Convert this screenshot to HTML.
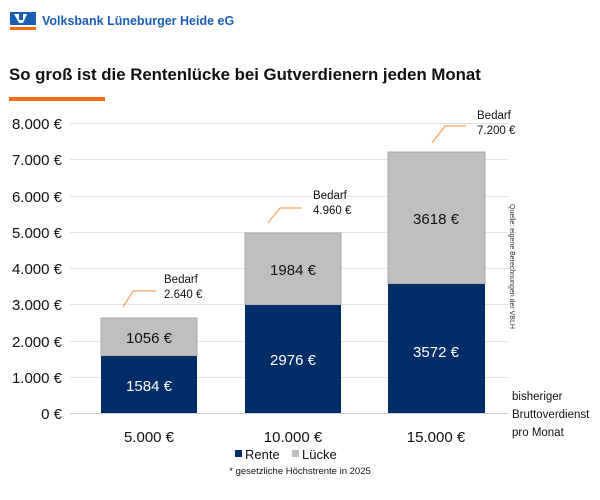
<!DOCTYPE html>
<html><head><meta charset="utf-8"><style>
body{margin:0;background:#fff;}
svg{display:block;font-family:"Liberation Sans",sans-serif;}
</style></head><body>
<svg width="600" height="500" viewBox="0 0 600 500">
<rect x="10" y="12" width="26" height="13" fill="#1a5fb4"/>
<path d="M14 14h5v6h4v-6h4l-4 9h-4z" fill="#fff"/>
<rect x="10" y="27" width="26" height="3" fill="#f60"/>
<text x="42" y="25" font-size="12.5" font-weight="bold" fill="#1a5fb4">Volksbank Lüneburger Heide eG</text>
<text x="9" y="80" font-size="16.8" font-weight="bold" fill="#111">So groß ist die Rentenlücke bei Gutverdienern jeden Monat</text>
<rect x="9" y="97" width="96" height="4" fill="#ff6a13"/>
<g stroke="#e3e3e3" stroke-width="1">
<line x1="70" x2="508" y1="123.5" y2="123.5"/><line x1="70" x2="508" y1="159.5" y2="159.5"/>
<line x1="70" x2="508" y1="196.5" y2="196.5"/><line x1="70" x2="508" y1="232.5" y2="232.5"/>
<line x1="70" x2="508" y1="268.5" y2="268.5"/><line x1="70" x2="508" y1="304.5" y2="304.5"/>
<line x1="70" x2="508" y1="341.5" y2="341.5"/><line x1="70" x2="508" y1="377.5" y2="377.5"/>
<line x1="70" x2="508" y1="413.5" y2="413.5" stroke="#ccc"/>
</g>
<g font-size="15" fill="#111" text-anchor="end">
<text x="62" y="129">8.000 €</text><text x="62" y="165">7.000 €</text><text x="62" y="202">6.000 €</text>
<text x="62" y="238">5.000 €</text><text x="62" y="274">4.000 €</text><text x="62" y="310">3.000 €</text>
<text x="62" y="347">2.000 €</text><text x="62" y="383">1.000 €</text><text x="62" y="419">0 €</text>
</g>
<rect x="101" y="318" width="96" height="38" fill="#bfbfbf" stroke="#aaa"/>
<rect x="101" y="356" width="96" height="57" fill="#002d67"/>
<rect x="245" y="233" width="96" height="72" fill="#bfbfbf" stroke="#aaa"/>
<rect x="245" y="305" width="96" height="108" fill="#002d67"/>
<rect x="388" y="152" width="97" height="132" fill="#bfbfbf" stroke="#aaa"/>
<rect x="388" y="284" width="97" height="129" fill="#002d67"/>
<g font-size="15" text-anchor="middle">
<text x="149" y="343" fill="#111">1056 €</text><text x="149" y="391" fill="#fff">1584 €</text>
<text x="293" y="275" fill="#111">1984 €</text><text x="293" y="365" fill="#fff">2976 €</text>
<text x="436" y="224" fill="#111">3618 €</text><text x="436" y="357" fill="#fff">3572 €</text>
</g>
<g stroke="#f7a25a" fill="none" stroke-width="1.2">
<polyline points="123,307 133,291 156,291"/>
<polyline points="268,223 280,208 302,208"/>
<polyline points="432,143 445,126 466,126"/>
</g>
<g font-size="11.5" fill="#111">
<text x="164" y="283">Bedarf</text><text x="164" y="298">2.640 €</text>
<text x="313" y="199">Bedarf</text><text x="313" y="214">4.960 €</text>
<text x="477" y="119">Bedarf</text><text x="477" y="134">7.200 €</text>
</g>
<text transform="translate(510,204) rotate(90)" font-size="7" fill="#333">Quelle: eigene Berechnungen der VBLH</text>
<g font-size="15" fill="#111" text-anchor="middle">
<text x="149" y="442">5.000 €</text><text x="293" y="442">10.000 €</text><text x="436" y="442">15.000 €</text>
</g>
<g font-size="11.5" fill="#111">
<text x="512" y="400">bisheriger</text><text x="512" y="418">Bruttoverdienst</text><text x="512" y="436">pro Monat</text>
</g>
<rect x="235" y="450" width="7" height="7" fill="#002d67"/>
<text x="245" y="459" font-size="13" fill="#111">Rente</text>
<rect x="292" y="450" width="7" height="7" fill="#bfbfbf"/>
<text x="302" y="459" font-size="13" fill="#111">Lücke</text>
<text x="300" y="474" font-size="9.5" fill="#111" text-anchor="middle">* gesetzliche Höchstrente in 2025</text>
</svg>
</body></html>
